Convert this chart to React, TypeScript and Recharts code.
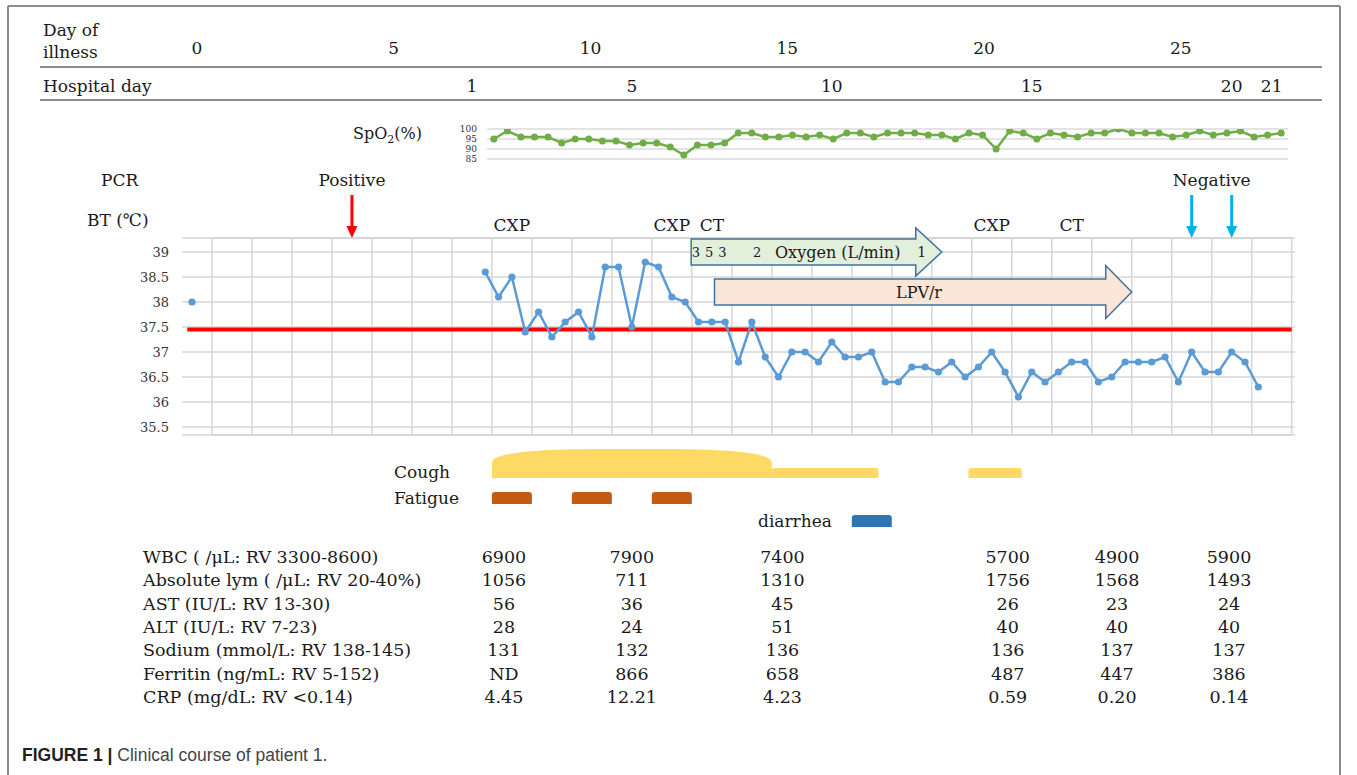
import React from 'react';
import { ComposedChart, Line, XAxis, YAxis, CartesianGrid, ReferenceLine, ReferenceArea } from 'recharts';

const W = 1357;
const H = 775;
const SERIF = '"DejaVu Serif", "Liberation Serif", serif';
const SANS = '"Liberation Sans", Arial, sans-serif';

// header rows
const illnessDays = [0, 5, 10, 15, 20, 25];
const hospitalDays = [1, 5, 10, 15, 20, 21];

// SpO2 (%), three readings a day from admission
const spo2Values = [
  95, 99, 96, 96, 96, 93, 95, 95, 94, 94,
  92, 93, 93, 91, 87, 92, 92, 93, 98, 98,
  96, 96, 97, 96, 97, 95, 98, 98,
  96, 98, 98, 98, 97, 97, 95, 98, 97, 90,
  99, 98, 95, 98, 97, 96, 98, 98, 100, 98,
  98, 98, 96, 97, 99, 97, 98, 99, 96, 97, 98,
];
const spo2Ticks = [85, 90, 95, 100];

// body temperature; x is a slot = 1/3 day of illness
const btAdmissionSlot = 0;
const btAdmissionValue = 38.0;
const btStartSlot = 22;
const btValues = [
  38.6, 38.1, 38.5, 37.4, 37.8, 37.3, 37.6, 37.8, 37.3, 38.7,
  38.7, 37.5, 38.8, 38.7, 38.1, 38.0, 37.6, 37.6, 37.6, 36.8,
  37.6, 36.9, 36.5, 37.0, 37.0, 36.8, 37.2, 36.9, 36.9, 37.0,
  36.4, 36.4, 36.7, 36.7, 36.6, 36.8, 36.5, 36.7, 37.0, 36.6,
  36.1, 36.6, 36.4, 36.6, 36.8, 36.8, 36.4, 36.5, 36.8, 36.8,
  36.8, 36.9, 36.4, 37.0, 36.6, 36.6, 37.0, 36.8, 36.3,
];
const btTicks = [35.5, 36, 36.5, 37, 37.5, 38, 38.5, 39];
const feverLine = 37.45;

// events (slot positions)
const pcrArrows = [
  { s: 12, color: '#ff0000' },
  { s: 75, color: '#00b0f0' },
  { s: 78, color: '#00b0f0' },
];
const pcrLabels = [
  { s: 12, text: 'Positive' },
  { s: 76.5, text: 'Negative' },
];
const imaging = [
  { s: 24, text: 'CXP' },
  { s: 36, text: 'CXP' },
  { s: 39, text: 'CT' },
  { s: 60, text: 'CXP' },
  { s: 66, text: 'CT' },
];
const oxygenPeriod = { from: 37.45, to: 56.25 };
const oxygenFlow = [
  { s: 37.8, v: '3' },
  { s: 38.8, v: '5' },
  { s: 39.8, v: '3' },
  { s: 42.4, v: '2' },
  { s: 54.75, v: '1' },
];
const lpvPeriod = { from: 39.2, to: 70.5 };

// symptoms (slot ranges)
const coughSevere = [{ from: 22.5, to: 43.5 }];
const coughMild = [{ from: 43.5, to: 51.5 }, { from: 58.25, to: 62.25 }];
const fatigue = [{ from: 22.5, to: 25.5 }, { from: 28.5, to: 31.5 }, { from: 34.5, to: 37.5 }];
const diarrhea = [{ from: 49.5, to: 52.5 }];

// labs
const labNames = [
  'WBC ( /μL: RV 3300-8600)',
  'Absolute lym ( /μL: RV 20-40%)',
  'AST (IU/L: RV 13-30)',
  'ALT (IU/L: RV 7-23)',
  'Sodium (mmol/L: RV 138-145)',
  'Ferritin (ng/mL: RV 5-152)',
  'CRP (mg/dL: RV <0.14)',
];
const labSlots = [23.4, 33, 44.3, 61.2, 69.4, 77.8];
const wbc = ['6900', '7900', '7400', '5700', '4900', '5900'];
const lym = ['1056', '711', '1310', '1756', '1568', '1493'];
const ast = ['56', '36', '45', '26', '23', '24'];
const alt = ['28', '24', '51', '40', '40', '40'];
const sodium = ['131', '132', '136', '136', '137', '137'];
const ferritin = ['ND', '866', '658', '487', '447', '386'];
const crp = ['4.45', '12.21', '4.23', '0.59', '0.20', '0.14'];
const labRows = [wbc, lym, ast, alt, sodium, ferritin, crp];

// layout
const S_MIN = -0.75;
const S_MAX = 82.75;
const PLOT_L = 182;
const PLOT_R = 1295;
const BT_TOP = 238;
const BT_BOTTOM = 435;
const BT_MIN = 35.34;
const BT_MAX = 39.28;
const sx = (s: number) => PLOT_L + ((s - S_MIN) * (PLOT_R - PLOT_L)) / (S_MAX - S_MIN);
const dayX = (d: number) => 197 + d * 39.35;
const hospX = (h: number) => sx(21 + 3 * (h - 1));

const GRID = '#d6d6d6';
const cellEdges = Array.from({ length: 28 }, (_, k) => 1.5 + 3 * k);

const btAdmission = [{ s: btAdmissionSlot, t: btAdmissionValue }];
const btCourse = btValues.map((t, i) => ({ s: btStartSlot + i, t }));
const spo2Data = spo2Values.map((v, i) => ({ i, v }));

const domeShape = (fill: string) => (p: any) => {
  const { x, y, width: w, height: h } = p;
  const r = Math.min(120, w / 2.4);
  const d = `M${x},${y + h} L${x},${y + 14} C${x},${y + 5} ${x + r * 0.25},${y} ${x + r},${y} L${x + w - r},${y} C${x + w - r * 0.25},${y} ${x + w},${y + 5} ${x + w},${y + 14} L${x + w},${y + h} Z`;
  return <path d={d} fill={fill} />;
};
const tabShape = (fill: string) => (p: any) => {
  const { x, y, width: w, height: h } = p;
  const r = 3;
  const d = `M${x},${y + h} L${x},${y + r} Q${x},${y} ${x + r},${y} L${x + w - r},${y} Q${x + w},${y} ${x + w},${y + r} L${x + w},${y + h} Z`;
  return <path d={d} fill={fill} />;
};

function Arrow({ from, to, yc, hb, hh, fill }: { from: number; to: number; yc: number; hb: number; hh: number; fill: string }) {
  const x0 = sx(from);
  const xt = sx(to);
  const xh = xt - 26;
  const pts = [
    [x0, yc - hb], [xh, yc - hb], [xh, yc - hh], [xt, yc], [xh, yc + hh], [xh, yc + hb], [x0, yc + hb],
  ].map((p) => p.join(',')).join(' ');
  return <polygon points={pts} fill={fill} stroke="#41719c" strokeWidth={1.5} />;
}

function DownArrow({ x, color }: { x: number; color: string }) {
  return (
    <g>
      <line x1={x} y1={195} x2={x} y2={228} stroke={color} strokeWidth={3} />
      <polygon points={`${x - 5.5},226 ${x + 5.5},226 ${x},238`} fill={color} />
    </g>
  );
}

export default function App() {
  const txt = { fontFamily: SERIF, fill: '#1a1a1a' } as const;
  return (
    <div style={{ position: 'absolute', left: 0, top: 0, width: W, height: H, background: '#fff', overflow: 'hidden' }}>
      {/* SpO2 */}
      <div style={{ position: 'absolute', left: 0, top: 0 }}>
        <ComposedChart width={W} height={175} data={spo2Data} margin={{ top: 129, right: W - 1288, bottom: 16, left: 437 }}>
          <XAxis dataKey="i" type="category" scale="band" hide />
          <YAxis
            type="number"
            domain={[85, 100]}
            ticks={spo2Ticks}
            interval={0}
            width={50}
            tickSize={0}
            tickMargin={10}
            axisLine={false}
            tickLine={false}
            allowDataOverflow
            tick={{ fontSize: 9, fill: '#333', fontFamily: SERIF }}
          />
          <CartesianGrid vertical={false} stroke="#c8c8c8" />
          <Line
            dataKey="v"
            stroke="#70ad47"
            strokeWidth={2.5}
            dot={{ r: 3.5, fill: '#70ad47', stroke: '#70ad47', strokeWidth: 0 }}
            activeDot={false}
            isAnimationActive={false}
          />
        </ComposedChart>
      </div>

      {/* body temperature */}
      <div style={{ position: 'absolute', left: 0, top: 0 }}>
        <ComposedChart width={W} height={BT_BOTTOM + 15} margin={{ top: BT_TOP, right: W - PLOT_R, bottom: 15, left: PLOT_L - 70 }}>
          <XAxis type="number" dataKey="s" domain={[S_MIN, S_MAX]} hide allowDataOverflow />
          <YAxis
            type="number"
            domain={[BT_MIN, BT_MAX]}
            ticks={btTicks}
            interval={0}
            width={70}
            tickSize={0}
            tickMargin={13}
            axisLine={false}
            tickLine={false}
            allowDataOverflow
            tick={{ fontSize: 13, fill: '#333', fontFamily: SERIF }}
          />
          <CartesianGrid vertical={false} stroke={GRID} strokeWidth={1.5} />
          {cellEdges.map((s) => (
            <ReferenceLine key={s} x={s} stroke={GRID} strokeWidth={1.5} />
          ))}
          <ReferenceLine segment={[{ x: 1.5, y: BT_MAX }, { x: 82.5, y: BT_MAX }]} stroke={GRID} strokeWidth={2} />
          <ReferenceLine segment={[{ x: 1.5, y: BT_MIN }, { x: 82.5, y: BT_MIN }]} stroke={GRID} strokeWidth={2} />
          <ReferenceLine segment={[{ x: -0.35, y: feverLine }, { x: 82.5, y: feverLine }]} stroke="#ff0000" strokeWidth={4} />
          <Line data={btAdmission} dataKey="t" stroke="#5b9bd5" strokeWidth={2.5}
            dot={{ r: 3.6, fill: '#5b9bd5', stroke: '#5b9bd5', strokeWidth: 0 }} activeDot={false} isAnimationActive={false} />
          <Line data={btCourse} dataKey="t" stroke="#5b9bd5" strokeWidth={2.5}
            dot={{ r: 3.6, fill: '#5b9bd5', stroke: '#5b9bd5', strokeWidth: 0 }} activeDot={false} isAnimationActive={false} />
        </ComposedChart>
      </div>

      {/* symptoms */}
      <div style={{ position: 'absolute', left: 0, top: 440 }}>
        <ComposedChart width={W} height={95} data={[{ s: 0, y: 0 }]} margin={{ top: 0, right: W - PLOT_R, bottom: 0, left: PLOT_L }}>
          <XAxis type="number" dataKey="s" domain={[S_MIN, S_MAX]} hide allowDataOverflow />
          <YAxis type="number" domain={[0, 95]} reversed hide allowDataOverflow />
          {coughSevere.map((c, i) => (
            <ReferenceArea key={`cs${i}`} x1={c.from} x2={c.to} y1={9} y2={38} shape={domeShape('#ffd966')} />
          ))}
          {coughMild.map((c, i) => (
            <ReferenceArea key={`cm${i}`} x1={c.from} x2={c.to} y1={28} y2={38} shape={tabShape('#ffd966')} />
          ))}
          {fatigue.map((c, i) => (
            <ReferenceArea key={`f${i}`} x1={c.from} x2={c.to} y1={52} y2={64} shape={tabShape('#c55a11')} />
          ))}
          {diarrhea.map((c, i) => (
            <ReferenceArea key={`d${i}`} x1={c.from} x2={c.to} y1={75} y2={87} shape={tabShape('#2e75b6')} />
          ))}
        </ComposedChart>
      </div>

      {/* annotations */}
      <svg width={W} height={H} style={{ position: 'absolute', left: 0, top: 0, pointerEvents: 'none' }}>
        {/* frame */}
        <line x1={8} y1={6} x2={1340} y2={6} stroke="#8c8c8c" strokeWidth={2} />
        <line x1={8} y1={6} x2={8} y2={H} stroke="#8c8c8c" strokeWidth={2} />
        <line x1={1340} y1={6} x2={1340} y2={H} stroke="#8c8c8c" strokeWidth={2} />

        {/* header */}
        <text x={43} y={36} fontSize={17} {...txt}>Day of</text>
        <text x={43} y={58} fontSize={17} {...txt}>illness</text>
        {illnessDays.map((d) => (
          <text key={d} x={dayX(d)} y={54} fontSize={17} textAnchor="middle" {...txt}>{d}</text>
        ))}
        <line x1={40} y1={67} x2={1322} y2={67} stroke="#666" strokeWidth={1.5} />
        <text x={43} y={92} fontSize={17} {...txt}>Hospital day</text>
        {hospitalDays.map((h) => (
          <text key={h} x={hospX(h)} y={92} fontSize={17} textAnchor="middle" {...txt}>{h}</text>
        ))}
        <line x1={40} y1={100} x2={1322} y2={100} stroke="#666" strokeWidth={1.5} />

        {/* SpO2 label */}
        <text x={353} y={139} fontSize={16} {...txt}>
          SpO<tspan fontSize={11} dy={4}>2</tspan><tspan dy={-4}>(%)</tspan>
        </text>

        {/* PCR */}
        <text x={101} y={186} fontSize={17} {...txt}>PCR</text>
        {pcrLabels.map((p) => (
          <text key={p.text} x={sx(p.s)} y={186} fontSize={17} textAnchor="middle" {...txt}>{p.text}</text>
        ))}
        {pcrArrows.map((a) => (
          <DownArrow key={a.s} x={sx(a.s)} color={a.color} />
        ))}

        {/* BT label and imaging */}
        <text x={87} y={226} fontSize={17} {...txt}>BT (℃)</text>
        {imaging.map((m) => (
          <text key={m.s} x={sx(m.s)} y={231} fontSize={17} textAnchor="middle" {...txt}>{m.text}</text>
        ))}

        {/* treatments */}
        <Arrow from={oxygenPeriod.from} to={oxygenPeriod.to} yc={252} hb={13} hh={24} fill="#e2efda" />
        {oxygenFlow.map((o) => (
          <text key={o.s} x={sx(o.s)} y={257} fontSize={o.s > 50 ? 14 : 13} textAnchor="middle" {...txt}>{o.v}</text>
        ))}
        <text x={775} y={258} fontSize={16} {...txt}>Oxygen (L/min)</text>
        <Arrow from={lpvPeriod.from} to={lpvPeriod.to} yc={292} hb={13} hh={26.5} fill="#fbe5d6" />
        <text x={919} y={298} fontSize={16} textAnchor="middle" {...txt}>LPV/r</text>

        {/* symptom labels */}
        <text x={394} y={478} fontSize={17} {...txt}>Cough</text>
        <text x={394} y={504} fontSize={17} {...txt}>Fatigue</text>
        <text x={758} y={527} fontSize={17} {...txt}>diarrhea</text>

        {/* labs */}
        {labNames.map((name, r) => (
          <g key={name}>
            <text x={143} y={563 + r * 23.3} fontSize={17.5} {...txt}>{name}</text>
            {labRows[r].map((v, c) => (
              <text key={c} x={sx(labSlots[c])} y={563 + r * 23.3} fontSize={17.5} textAnchor="middle" {...txt}>{v}</text>
            ))}
          </g>
        ))}

        {/* caption */}
        <text x={22} y={761} fontSize={17.5} fontFamily={SANS}>
          <tspan fontWeight="bold" fill="#231f20">FIGURE 1 | </tspan>
          <tspan fill="#444">Clinical course of patient 1.</tspan>
        </text>
      </svg>
    </div>
  );
}
